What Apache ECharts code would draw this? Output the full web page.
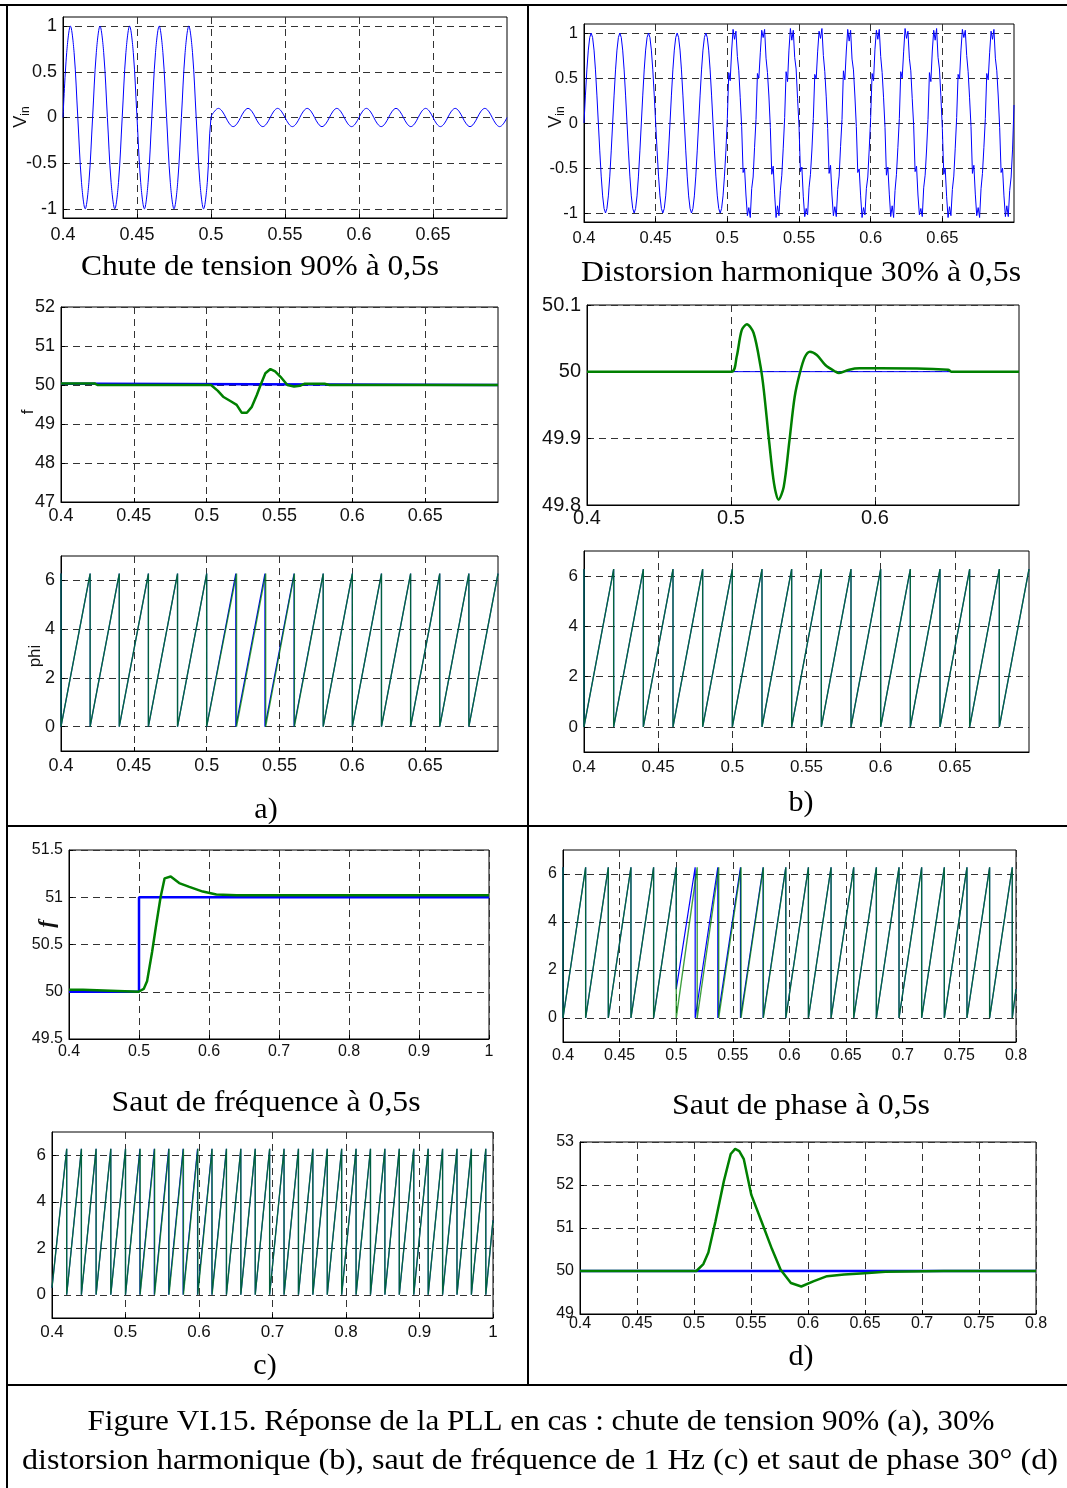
<!DOCTYPE html>
<html><head><meta charset="utf-8">
<script src="https://cdn.jsdelivr.net/npm/echarts@6/dist/echarts.min.js"></script>
<style>html,body{margin:0;padding:0;background:#fff}#c{width:1067px;height:1488px}</style>
</head><body><div id="c"></div>
<script>
// ================= DATA =================
// tick values
const xTicksAB = [0.4, 0.45, 0.5, 0.55, 0.6, 0.65];
const xTicksB2 = [0.4, 0.5, 0.6];
const xTicksC = [0.4, 0.5, 0.6, 0.7, 0.8, 0.9, 1];
const xTicksD = [0.4, 0.45, 0.5, 0.55, 0.6, 0.65, 0.7, 0.75, 0.8];
const yTicksVin = [-1, -0.5, 0, 0.5, 1];
const yTicksFA = [47, 48, 49, 50, 51, 52];
const yTicksFB = [49.8, 49.9, 50, 50.1];
const yTicksFC = [49.5, 50, 50.5, 51, 51.5];
const yTicksFD = [49, 50, 51, 52, 53];
const yTicksPhi = [0, 2, 4, 6];

// (a) input voltage, sampled every 2.5 ms from 0.4 s
const vinA_t0 = 0.4, vinA_dt = 0.0025;
const vinA = [
 0,0.71,1,0.71,0,-0.71,-1,-0.71, 0,0.71,1,0.71,0,-0.71,-1,-0.71,
 0,0.71,1,0.71,0,-0.71,-1,-0.71, 0,0.71,1,0.71,0,-0.71,-1,-0.71,
 0,0.71,1,0.71,0,-0.71,-1,-0.71,
 0,0.07,0.1,0.07,0,-0.07,-0.1,-0.07, 0,0.07,0.1,0.07,0,-0.07,-0.1,-0.07,
 0,0.07,0.1,0.07,0,-0.07,-0.1,-0.07, 0,0.07,0.1,0.07,0,-0.07,-0.1,-0.07,
 0,0.07,0.1,0.07,0,-0.07,-0.1,-0.07, 0,0.07,0.1,0.07,0,-0.07,-0.1,-0.07,
 0,0.07,0.1,0.07,0,-0.07,-0.1,-0.07, 0,0.07,0.1,0.07,0,-0.07,-0.1,-0.07,
 0,0.07,0.1,0.07,0,-0.07,-0.1,-0.07, 0,0.07,0.1,0.07,0,-0.07,-0.1,-0.07,
 0
];

// (b) input voltage with harmonics, sampled every 1 ms from 0.4 s
const vinB_t0 = 0.4, vinB_dt = 0.001;
const vinB = [
 0,0.31,0.59,0.81,0.95,1,0.95,0.81,0.59,0.31,0,-0.31,-0.59,-0.81,-0.95,-1,-0.95,-0.81,-0.59,-0.31,
 0,0.31,0.59,0.81,0.95,1,0.95,0.81,0.59,0.31,0,-0.31,-0.59,-0.81,-0.95,-1,-0.95,-0.81,-0.59,-0.31,
 0,0.31,0.59,0.81,0.95,1,0.95,0.81,0.59,0.31,0,-0.31,-0.59,-0.81,-0.95,-1,-0.95,-0.81,-0.59,-0.31,
 0,0.31,0.59,0.81,0.95,1,0.95,0.81,0.59,0.31,0,-0.31,-0.59,-0.81,-0.95,-1,-0.95,-0.81,-0.59,-0.31,
 0,0.31,0.59,0.81,0.95,1,0.95,0.81,0.59,0.31,0,-0.31,-0.59,-0.81,-0.95,-1,-0.95,-0.81,-0.59,-0.31,
 0.05,0.56,0.47,0.8,1.04,0.93,1.02,0.74,0.58,0.28,-0.04,-0.55,-0.5,-0.8,-1.03,-0.94,-1.05,-0.73,-0.6,-0.27,
 0.04,0.55,0.5,0.78,1.03,0.95,1.04,0.72,0.56,0.3,-0.05,-0.57,-0.48,-0.79,-1.05,-0.92,-1.03,-0.75,-0.58,-0.28,
 0.06,0.57,0.46,0.81,1.05,0.92,1.03,0.73,0.6,0.27,-0.03,-0.54,-0.49,-0.82,-1.04,-0.95,-1.02,-0.72,-0.57,-0.3,
 0.05,0.54,0.49,0.79,1.02,0.94,1.05,0.75,0.57,0.29,-0.06,-0.56,-0.47,-0.8,-1.03,-0.93,-1.04,-0.74,-0.59,-0.26,
 0.04,0.58,0.48,0.8,1.04,0.91,1.03,0.71,0.59,0.3,-0.04,-0.55,-0.51,-0.81,-1.05,-0.94,-1.02,-0.73,-0.6,-0.29,
 0.06,0.55,0.47,0.82,1.03,0.93,1.04,0.74,0.56,0.28,-0.05,-0.58,-0.49,-0.79,-1.04,-0.92,-1.05,-0.75,-0.57,-0.27,
 0.05,0.57,0.5,0.79,1.05,0.94,1.02,0.72,0.58,0.27,-0.03,-0.54,-0.48,-0.8,-1.02,-0.95,-1.04,-0.72,-0.58,-0.3,
 0.04,0.56,0.46,0.8,1.03,0.92,1.05,0.73,0.6,0.29,-0.06,-0.57,-0.5,-0.82,-1.05,-0.93,-1.03,-0.74,-0.59,-0.28,
 0.06,0.54,0.49,0.81,1.04,0.95,1.03,0.75,0.57,0.28,-0.04,-0.56,-0.47,-0.79,-1.03,-0.94,-1.05,-0.73,-0.56,-0.27,
 0.05,0.55,0.48,0.78,1.02,0.93,1.04,0.72,0.58,0.3,-0.05,-0.55,-0.5,-0.81,-1.04,-0.92,-1.04,-0.75,-0.6,-0.29,
 0.2
];

// frequency [t (s), f (Hz)]
const fA_ref = [[0.4,50.03],[0.423,50.03],[0.424,50],[0.7,50]];
const fA_pll = [[0.4,50.04],[0.423,50.04],[0.425,50],[0.503,50],[0.5043,49.99],[0.5077,49.85],[0.5113,49.7],
 [0.5171,49.57],[0.5206,49.49],[0.524,49.29],[0.5276,49.29],[0.531,49.44],[0.5345,49.75],[0.537,50.0],
 [0.5403,50.3],[0.5438,50.41],[0.547,50.35],[0.5507,50.21],[0.5554,50.0],[0.56,49.96],[0.564,49.98],
 [0.567,50.03],[0.581,50.03],[0.5843,50],[0.7,50]];
const fB_ref = [[0.4,50],[0.7,50]];
const fB_pll = [[0.4,50],[0.5003,50],[0.5039,50.022],[0.5074,50.062],[0.511,50.071],[0.5157,50.058],
 [0.5205,50.008],[0.5228,49.972],[0.5264,49.897],[0.5299,49.832],[0.533,49.808],[0.5366,49.827],
 [0.5406,49.897],[0.5442,49.962],[0.5477,49.997],[0.5513,50.022],[0.5548,50.03],[0.5596,50.025],
 [0.5655,50.01],[0.5726,50.0],[0.575,49.998],[0.5821,50.003],[0.5892,50.005],[0.6034,50.005],
 [0.6508,50.003],[0.653,50],[0.7,50]];
const fC_ref = [[0.4,50],[0.5,50],[0.5,51],[1,51]];
const fC_pll = [[0.4,50.02],[0.42,50.02],[0.422,50],[0.4994,50],[0.5067,50.03],[0.5115,50.11],[0.5187,50.42],
 [0.5246,50.71],[0.5308,51.0],[0.5366,51.2],[0.5453,51.22],[0.5574,51.15],[0.5719,51.11],[0.5912,51.06],
 [0.6105,51.03],[0.6394,51.02],[1,51.02]];
const fD_ref = [[0.4,50],[0.8,50]];
const fD_pll = [[0.4,50],[0.5021,50],[0.5082,50.16],[0.5126,50.43],[0.5187,51.14],[0.5262,52.09],
 [0.5322,52.72],[0.5361,52.84],[0.5397,52.79],[0.5437,52.6],[0.5503,51.77],[0.5594,51.14],[0.5684,50.51],
 [0.576,50.03],[0.585,49.72],[0.5941,49.64],[0.6046,49.76],[0.6167,49.88],[0.6317,49.92],[0.6498,49.95],
 [0.6679,49.98],[0.686,49.99],[0.7191,50],[0.8,50]];

// phase (rad): wrap instants (value drops from 2*pi to 0, or to the given value)
const PHI_MAX = 6.28;
const phiA_refResets = [0.42,0.44,0.46,0.48,0.5,0.52,0.54,0.56,0.58,0.6,0.62,0.64,0.66,0.68];
const phiA_pllResets = [0.42,0.44,0.46,0.48,0.5,0.5205,0.5405,0.5602,0.58,0.6,0.62,0.64,0.66,0.68];
const phiB_refResets = [0.42,0.44,0.46,0.48,0.5,0.52,0.54,0.56,0.58,0.6,0.62,0.64,0.66,0.68];
const phiB_pllResets = [0.42,0.44,0.46,0.48,0.5,0.52,0.54,0.56,0.58,0.6,0.62,0.64,0.66,0.68];
const phiC_refResets = [0.42,0.44,0.46,0.48,0.5,0.5196,0.5392,0.5588,0.5784,0.598,0.6176,0.6373,0.6569,
 0.6765,0.6961,0.7157,0.7353,0.7549,0.7745,0.7941,0.8137,0.8333,0.8529,0.8725,0.8922,0.9118,0.9314,0.951,0.9706,0.9902];
const phiC_pllResets = [0.42,0.44,0.46,0.48,0.5,0.5199,0.5396,0.5592,0.5788,0.5984,0.6178,0.6374,0.6569,
 0.6765,0.6961,0.7157,0.7353,0.7549,0.7745,0.7941,0.8137,0.8333,0.8529,0.8725,0.8922,0.9118,0.9314,0.951,0.9706,0.9902];
const phiD_refResets = [0.42,0.44,0.46,0.48,[0.5,1.2],0.5167,0.5367,0.5567,0.5767,0.5967,0.6167,0.6367,0.6567,
 0.6767,0.6967,0.7167,0.7367,0.7567,0.7767,0.7967];
const phiD_pllResets = [0.42,0.44,0.46,0.48,0.5,0.5185,0.5375,0.5572,0.5769,0.5968,0.6167,0.6367,0.6567,
 0.6767,0.6967,0.7167,0.7367,0.7567,0.7767,0.7967];
// [t, value] at the start / end of each phase record
const phiA_start = [0.4, 0], phiA_end = [0.7, 6.28];
const phiB_start = [0.4, 0], phiB_end = [0.7, 6.28];
const phiC_start = [0.4, 0.3], phiC_end = [1.0, 3.2];
const phiD_start = [0.4, 0], phiD_end = [0.8, 1.2];

// texts
const subTitles = ['Chute de tension 90% à 0,5s', 'Distorsion harmonique 30% à 0,5s',
  'Saut de fréquence à 0,5s', 'Saut de phase à 0,5s'];
const panelTags = ['a)', 'b)', 'c)', 'd)'];
const captionLines = ['Figure VI.15. Réponse de la PLL en cas : chute de tension 90% (a), 30%',
  'distorsion harmonique (b), saut de fréquence de 1 Hz (c) et saut de phase 30° (d)'];
const yAxisTitles = ['V', 'in', 'f', 'phi'];

// ================= BUILD =================
function sampled(t0, dt, vals) { return vals.map((v, i) => [+(t0 + i * dt).toFixed(6), v]); }
function saw(start, resets, end, dropAtStart) {
  const d = [];
  if (dropAtStart) d.push([start[0], PHI_MAX]);
  d.push(start.slice());
  resets.forEach(r => {
    const t = Array.isArray(r) ? r[0] : r, after = Array.isArray(r) ? r[1] : 0;
    d.push([t, PHI_MAX]); d.push([t, after]);
  });
  d.push(end.slice());
  return d;
}

const SANS = '"Liberation Sans", Arial, sans-serif';
const SERIF = '"Liberation Serif", "DejaVu Serif", serif';
const BLUE = '#0000ff', GREEN = '#008000';

// panel layout (pixels) -- style only
const P = [
  {g:[63,17,444,201],  x:[0.4,0.7], xt:xTicksAB, y:[-1.1,1.1], yt:yTicksVin, fs:18, xm:8, ym:6},   //0 a1
  {g:[61,307,437,195], x:[0.4,0.7], xt:xTicksAB, y:[47,52], yt:yTicksFA, fs:18, xm:5, ym:6},        //1 a2
  {g:[61,556,437,195], x:[0.4,0.7], xt:xTicksAB, y:[-1,7], yt:yTicksPhi, fs:18, xm:6, ym:6},        //2 a3
  {g:[584,24,430,198], x:[0.4,0.7], xt:xTicksAB, y:[-1.1,1.1], yt:yTicksVin, fs:16.5, xm:8, ym:6},  //3 b1
  {g:[587,305,432,200],x:[0.4,0.7], xt:xTicksB2, y:[49.8,50.1], yt:yTicksFB, fs:20, xm:3, ym:6},    //4 b2
  {g:[584,551,445,201],x:[0.4,0.7], xt:xTicksAB, y:[-1,7], yt:yTicksPhi, fs:17, xm:7, ym:6},        //5 b3
  {g:[69,850,420,189], x:[0.4,1], xt:xTicksC, y:[49.5,51.5], yt:yTicksFC, fs:16, xm:5, ym:6},       //6 c1
  {g:[52,1132,441,186],x:[0.4,1], xt:xTicksC, y:[-1,7], yt:yTicksPhi, fs:17, xm:6, ym:6},           //7 c2
  {g:[563,850,453,192],x:[0.4,0.8], xt:xTicksD, y:[-1,7], yt:yTicksPhi, fs:16, xm:6, ym:6},         //8 d1
  {g:[580,1142,456,172],x:[0.4,0.8], xt:xTicksD, y:[49,53], yt:yTicksFD, fs:16, xm:2, ym:6}         //9 d2
];

const fmt = v => String(+(+v).toFixed(4));
const gridLine = {show:true, lineStyle:{color:'#333', width:1, type:[7,5]}};
const grids = [], xAxes = [], yAxes = [];
P.forEach((p, i) => {
  grids.push({left:p.g[0], top:p.g[1], width:p.g[2], height:p.g[3], show:true,
    borderColor:'#000', borderWidth:1, containLabel:false});
  xAxes.push({type:'value', gridIndex:i, min:p.x[0], max:p.x[1],
    axisLine:{show:true, onZero:false, lineStyle:{color:'#000', width:1}},
    axisTick:{show:true, inside:true, length:4, customValues:p.xt, lineStyle:{color:'#000'}},
    axisLabel:{customValues:p.xt, formatter:fmt, fontFamily:SANS, fontSize:p.fs, color:'#111', margin:p.xm,
      showMaxLabel:true, showMinLabel:true, hideOverlap:false},
    splitLine:gridLine});
  yAxes.push({type:'value', gridIndex:i, min:p.y[0], max:p.y[1],
    axisLine:{show:true, onZero:false, lineStyle:{color:'#000', width:1}},
    axisTick:{show:true, inside:true, length:4, customValues:p.yt, lineStyle:{color:'#000'}},
    axisLabel:{customValues:p.yt, formatter:fmt, fontFamily:SANS, fontSize:p.fs, color:'#111', margin:p.ym,
      showMaxLabel:true, showMinLabel:true, hideOverlap:false},
    splitLine:gridLine});
});

function line(idx, data, color, width, extra) {
  return Object.assign({type:'line', xAxisIndex:idx, yAxisIndex:idx, data:data, showSymbol:false,
    symbol:'none', animation:false, silent:true, clip:true,
    lineStyle:{color:color, width:width}}, extra || {});
}
const greenThin = {lineStyle:{color:GREEN, width:1.4, opacity:0.75}};
const series = [
  line(0, sampled(vinA_t0, vinA_dt, vinA), BLUE, 1, {smooth:0.35}),
  line(3, sampled(vinB_t0, vinB_dt, vinB), BLUE, 1),
  line(1, fA_ref, BLUE, 2.5), line(1, fA_pll, GREEN, 2.5),
  line(4, fB_ref, BLUE, 1), line(4, fB_pll, GREEN, 2.5, {smooth:0.3}),
  line(6, fC_ref, BLUE, 2.5), line(6, fC_pll, GREEN, 2.5),
  line(9, fD_ref, BLUE, 2.5), line(9, fD_pll, GREEN, 2.5),
  line(2, saw(phiA_start, phiA_refResets, phiA_end, true), BLUE, 1.2),
  line(2, saw(phiA_start, phiA_pllResets, phiA_end, true), GREEN, 1.4, greenThin),
  line(5, saw(phiB_start, phiB_refResets, phiB_end, true), BLUE, 1.2),
  line(5, saw(phiB_start, phiB_pllResets, phiB_end, true), GREEN, 1.4, greenThin),
  line(7, saw(phiC_start, phiC_refResets, phiC_end, false), BLUE, 1.2),
  line(7, saw(phiC_start, phiC_pllResets, phiC_end, false), GREEN, 1.4, greenThin),
  line(8, saw(phiD_start, phiD_refResets, phiD_end, true), BLUE, 1.2),
  line(8, saw(phiD_start, phiD_pllResets, phiD_end, true), GREEN, 1.4, greenThin)
];

// ---- texts (layout only)
const mctx = document.createElement('canvas').getContext('2d');
function textEl(str, cx, cy, fs, w) {
  mctx.font = fs + 'px "Liberation Serif"';
  const s = w ? w / mctx.measureText(str).width : 1;
  return {type:'text', x:cx, y:cy, scaleX:s, scaleY:1, z:100,
    style:{text:str, fontFamily:SERIF, fontSize:fs, fill:'#000',
      textAlign:'center', textVerticalAlign:'middle', align:'center', verticalAlign:'middle'}};
}
function rotText(cx, cy, style) {
  return {type:'text', x:cx, y:cy, rotation:Math.PI/2, z:100,
    style:Object.assign({fill:'#111', textAlign:'center', textVerticalAlign:'middle',
      align:'center', verticalAlign:'middle'}, style)};
}
function vinLabel(cx, cy) {
  return rotText(cx, cy, {text:'{v|' + yAxisTitles[0] + '}{s|' + yAxisTitles[1] + '}',
    rich:{v:{fontFamily:SANS, fontSize:18, lineHeight:22, fill:'#111'},
          s:{fontFamily:SANS, fontSize:12, lineHeight:14, verticalAlign:'bottom', fill:'#111'}}});
}
function hline(x1, y1, x2, y2) {
  return {type:'line', z:100, shape:{x1:x1, y1:y1, x2:x2, y2:y2}, style:{stroke:'#000', lineWidth:2}};
}
const graphics = [
  hline(0, 5, 1067, 5), hline(7, 5, 7, 1488), hline(528, 5, 528, 1385),
  hline(7, 826, 1067, 826), hline(7, 1385, 1067, 1385),
  textEl(subTitles[0], 260, 267, 30, 358),
  textEl(subTitles[1], 801, 273, 30, 440),
  textEl(subTitles[2], 266, 1103, 30, 309),
  textEl(subTitles[3], 801, 1106, 30, 258),
  textEl(panelTags[0], 266, 810, 30, 0),
  textEl(panelTags[1], 801, 803, 30, 0),
  textEl(panelTags[2], 265, 1366, 30, 0),
  textEl(panelTags[3], 801, 1357, 30, 0),
  textEl(captionLines[0], 541, 1422, 29, 907),
  textEl(captionLines[1], 540, 1461, 29, 1036),
  vinLabel(21, 117),
  vinLabel(556, 117),
  rotText(28, 412, {text:yAxisTitles[2], fontFamily:SANS, fontSize:17}),
  rotText(35, 656, {text:yAxisTitles[3], fontFamily:SANS, fontSize:17}),
  rotText(47, 924, {text:yAxisTitles[2], fontFamily:SERIF, fontSize:22, fontWeight:'bold', fontStyle:'italic'})
];

const chart = echarts.init(document.getElementById('c'), null, {renderer:'canvas', width:1067, height:1488});
chart.setOption({
  animation:false, backgroundColor:'#fff',
  grid:grids, xAxis:xAxes, yAxis:yAxes, series:series, graphic:{elements:graphics}
});
</script></body></html>
